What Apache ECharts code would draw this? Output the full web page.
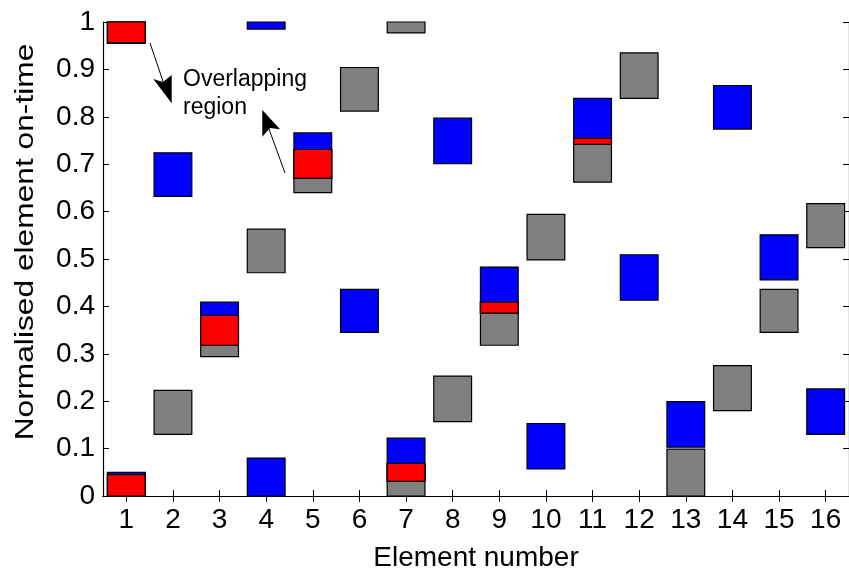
<!DOCTYPE html>
<html>
<head>
<meta charset="utf-8">
<script src="https://cdn.jsdelivr.net/npm/echarts@6/dist/echarts.min.js"></script>
<style>
  html, body { margin: 0; padding: 0; background: #fff; }
  #chart { width: 849px; height: 577px; }
</style>
</head>
<body>
<div id="chart"></div>
<script>
// Element numbers along the x axis
const elements = ['1','2','3','4','5','6','7','8','9','10','11','12','13','14','15','16'];

// On-time intervals [element index, start, end]; intervals that wrap past 1 are split in two
const grayOn = [
  [0, 0.956, 1], [0, 0, 0.045],
  [1, 0.130, 0.223],
  [2, 0.294, 0.381],
  [3, 0.471, 0.563],
  [4, 0.640, 0.731],
  [5, 0.812, 0.904],
  [6, 0.977, 1], [6, 0, 0.069],
  [7, 0.157, 0.253],
  [8, 0.318, 0.409],
  [9, 0.498, 0.594],
  [10, 0.662, 0.755],
  [11, 0.839, 0.935],
  [12, 0, 0.099],
  [13, 0.180, 0.275],
  [14, 0.345, 0.436],
  [15, 0.524, 0.617]
];

const blueOn = [
  [0, 0.955, 1], [0, 0, 0.050],
  [1, 0.632, 0.724],
  [2, 0.318, 0.409],
  [3, 0.985, 1], [3, 0, 0.080],
  [4, 0.670, 0.766],
  [5, 0.345, 0.436],
  [6, 0.031, 0.122],
  [7, 0.701, 0.797],
  [8, 0.386, 0.483],
  [9, 0.057, 0.153],
  [10, 0.742, 0.839],
  [11, 0.413, 0.509],
  [12, 0.103, 0.199],
  [13, 0.774, 0.866],
  [14, 0.456, 0.551],
  [15, 0.130, 0.226]
];

// Where the two on-time intervals overlap
const overlapOn = [
  [0, 0.956, 1], [0, 0, 0.045],
  [2, 0.318, 0.381],
  [4, 0.670, 0.731],
  [6, 0.031, 0.069],
  [8, 0.386, 0.409],
  [10, 0.742, 0.755]
];

const FONT = 'Liberation Sans, Arial, sans-serif';

function blockSeries(name, data, fill) {
  return {
    name: name,
    type: 'custom',
    data: data,
    encode: { x: 0, y: [1, 2] },
    renderItem: function (params, api) {
      const top = api.coord([api.value(0), api.value(2)]);
      const bottom = api.coord([api.value(0), api.value(1)]);
      const w = api.size([1, 0])[0] * 0.81;
      return {
        type: 'rect',
        shape: { x: top[0] - w / 2, y: top[1], width: w, height: bottom[1] - top[1] },
        style: { fill: fill, stroke: '#000', lineWidth: 1.2 }
      };
    }
  };
}

const axisLine = { show: true, lineStyle: { color: '#000', width: 1.2 } };
const tick = { show: true, inside: true, length: 6, alignWithLabel: true, lineStyle: { color: '#000' } };
const yTick = { show: true, inside: true, length: 6, lineStyle: { color: '#000' } };

const chart = echarts.init(document.getElementById('chart'), null, { renderer: 'canvas' });
chart.setOption({
  animation: false,
  backgroundColor: '#fff',
  grid: { left: 103, right: -3, top: 22, bottom: 74, containLabel: false },
  xAxis: [
    {
      type: 'category', data: elements, position: 'bottom', boundaryGap: true,
      axisLine: axisLine, axisTick: tick, splitLine: { show: false },
      axisLabel: { color: '#000', fontFamily: FONT, fontSize: 28, margin: 10 },
      name: 'Element number', nameLocation: 'middle', nameGap: 48,
      nameTextStyle: { color: '#000', fontFamily: FONT, fontSize: 28 }
    },
    {
      type: 'category', data: elements, position: 'top', boundaryGap: true,
      axisLine: axisLine, axisTick: tick, axisLabel: { show: false }, splitLine: { show: false }
    }
  ],
  yAxis: [
    {
      type: 'value', min: 0, max: 1, interval: 0.1, position: 'left',
      axisLine: axisLine, axisTick: yTick, splitLine: { show: false },
      axisLabel: { color: '#000', fontFamily: FONT, fontSize: 28, margin: 8,
        formatter: function (v) { return String(+v.toFixed(1)); } }
    },
    {
      type: 'value', min: 0, max: 1, interval: 0.1, position: 'right',
      axisLine: axisLine, axisTick: yTick, axisLabel: { show: false }, splitLine: { show: false }
    }
  ],
  series: [
    blockSeries('Element A', grayOn, '#808080'),
    blockSeries('Element B', blueOn, '#0000ff'),
    blockSeries('Overlap', overlapOn, '#ff0000')
  ],
  graphic: [
    // y-axis title, set vertically and drawn a little elongated
    { type: 'text', x: 26, y: 242, rotation: Math.PI / 2, scaleX: 1.22, z: 10,
      style: { text: 'Normalised element on-time', font: '26px ' + FONT, fill: '#000',
        align: 'center', verticalAlign: 'middle' } },
    { type: 'text', left: 183, top: 66, z: 10,
      style: { text: 'Overlapping\nregion', font: '23px ' + FONT, fill: '#000', lineHeight: 28 } },
    // arrow pointing down-right toward the label
    { type: 'line', z: 10, shape: { x1: 150, y1: 43, x2: 168, y2: 96 }, style: { stroke: '#000', lineWidth: 1 } },
    { type: 'polygon', z: 10, shape: { points: [[171.7, 103.3], [153.3, 79], [163, 82], [171.7, 75]] }, style: { fill: '#000' } },
    // arrow pointing up-left toward the label
    { type: 'line', z: 10, shape: { x1: 285, y1: 173, x2: 265, y2: 118 }, style: { stroke: '#000', lineWidth: 1 } },
    { type: 'polygon', z: 10, shape: { points: [[262.3, 110], [262.3, 136.7], [270, 128], [280, 129.3]] }, style: { fill: '#000' } }
  ]
});
</script>
</body>
</html>
